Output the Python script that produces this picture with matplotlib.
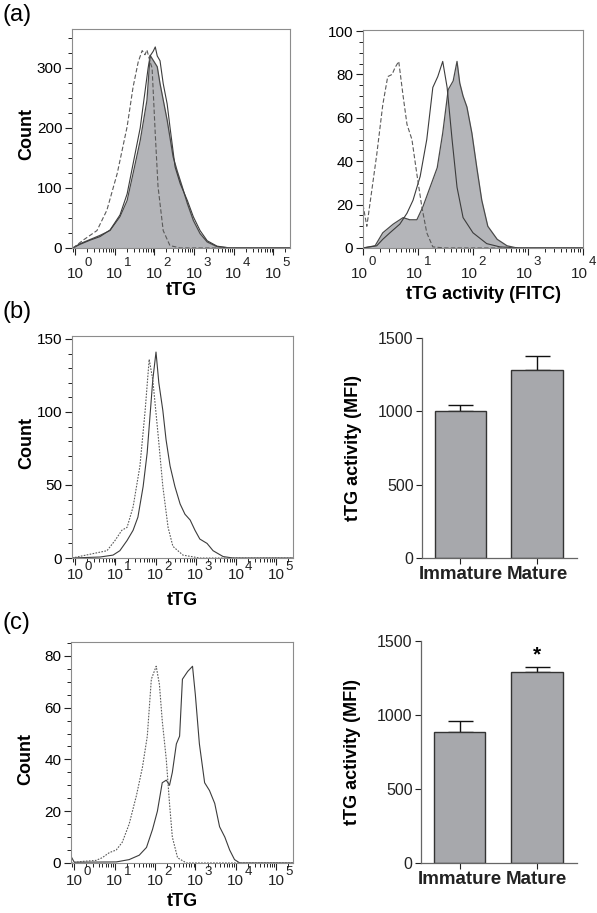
import numpy as np
import matplotlib
matplotlib.use('Agg')
import matplotlib.pyplot as plt
from matplotlib.ticker import MultipleLocator, LogLocator, NullFormatter, FixedLocator

plt.rcParams['font.family'] = ['Liberation Sans', 'DejaVu Sans']

OUTPUT_PATH = 'out.png'
FLOWJO_MAX = 262144  # FlowJo 18-bit axis top

# ---- (a) left: tTG staining, log10(fluorescence) vs count -------------------------
a_tg_iso_log = [-0.055, 0.2, 0.55, 0.8, 1.06, 1.31, 1.46, 1.59, 1.69, 1.76, 1.81, 1.89, 1.94, 2.02, 2.09, 2.22, 2.39, 2.65, 5.42]
a_tg_iso_cnt = [0, 13, 29, 63, 124, 202, 268, 310, 329, 322, 330, 310, 300, 190, 102, 29, 4, 0, 0]
a_tg_imm_log = [-0.055, 0.12, 0.375, 0.627, 0.88, 1.13, 1.31, 1.46, 1.64, 1.76, 1.84, 1.89, 1.97, 2.02, 2.07, 2.14, 2.22, 2.32, 2.39, 2.52, 2.65, 2.83, 2.98, 3.15, 3.33, 3.58, 3.91, 5.42]
a_tg_imm_cnt = [0, 6, 13, 19, 30, 55, 90, 140, 200, 260, 300, 320, 328, 335, 320, 312, 274, 240, 202, 135, 107, 79, 52, 29, 12, 3, 0, 0]
a_tg_mat_log = [-0.055, 0.12, 0.375, 0.627, 0.88, 1.13, 1.31, 1.46, 1.64, 1.81, 1.89, 2.07, 2.14, 2.32, 2.47, 2.57, 2.70, 2.83, 2.98, 3.15, 3.33, 3.58, 3.91, 5.42]
a_tg_mat_cnt = [0, 7, 14, 21, 29, 52, 79, 124, 179, 246, 321, 302, 274, 213, 152, 129, 102, 74, 46, 24, 10, 2, 0, 0]

# ---- (a) right: tTG activity (FITC) --------------------------------------------------
a_act_iso_log = [0.0, 0.07, 0.13, 0.25, 0.36, 0.45, 0.53, 0.58, 0.65, 0.73, 0.8, 0.89, 0.98, 1.07, 1.16, 1.27, 1.49, 4.0]
a_act_iso_cnt = [20, 10, 21, 43, 66, 79, 80, 83, 86, 70, 57, 50, 34, 19, 7, 0.5, 0, 0]
a_act_imm_log = [0.0, 0.25, 0.36, 0.49, 0.67, 0.8, 0.91, 1.04, 1.16, 1.27, 1.36, 1.45, 1.53, 1.62, 1.71, 1.82, 2.0, 2.25, 2.49, 2.85, 4.0]
a_act_imm_cnt = [0, 1, 4, 7, 11, 16, 22, 33, 50, 74, 79, 86, 74, 50, 28, 14, 7, 2, 0.5, 0, 0]
a_act_mat_log = [0.0, 0.22, 0.36, 0.55, 0.73, 0.85, 0.98, 1.09, 1.22, 1.35, 1.45, 1.55, 1.64, 1.71, 1.76, 1.82, 1.89, 1.98, 2.07, 2.16, 2.27, 2.44, 2.62, 2.8, 4.0]
a_act_mat_cnt = [0, 1, 7, 11, 14, 13, 13, 19, 28, 37, 53, 73, 77, 86, 76, 70, 65, 53, 37, 22, 10, 4, 1, 0, 0]

# ---- (b) left: tTG, immature vs mature ------------------------------------------------
b_dash_log = [-0.08, 0.44, 0.79, 0.99, 1.16, 1.29, 1.44, 1.61, 1.74, 1.84, 1.93, 2.06, 2.18, 2.31, 2.43, 2.68, 3.10, 5.42]
b_dash_cnt = [0, 3, 5, 12, 19, 21, 35, 63, 101, 136, 122, 85, 49, 21, 8, 2, 0, 0]
b_solid_log = [-0.08, 0.62, 0.94, 1.11, 1.29, 1.44, 1.56, 1.69, 1.79, 1.86, 1.93, 2.01, 2.08, 2.18, 2.26, 2.36, 2.48, 2.61, 2.73, 2.86, 2.98, 3.10, 3.28, 3.43, 3.68, 3.93, 5.42]
b_solid_cnt = [0, 0.7, 2, 5, 12, 19, 28, 49, 72, 97, 122, 141, 120, 101, 81, 63, 49, 37, 30, 26, 19, 13, 10, 5, 1, 0, 0]

# ---- (c) left -------------------------------------------------------------------------
c_dash_log = [-0.08, 0.19, 0.54, 0.69, 0.87, 1.04, 1.19, 1.36, 1.54, 1.69, 1.81, 1.91, 2.03, 2.11, 2.18, 2.28, 2.36, 2.43, 2.56, 2.78, 5.42]
c_dash_cnt = [0, 0.6, 1, 2, 4, 5, 8, 15, 26, 37, 49, 71, 76, 69, 55, 40, 23, 10, 2, 0, 0]
c_solid_log = [-0.08, 0.0, 1.04, 1.36, 1.61, 1.79, 1.94, 2.06, 2.18, 2.28, 2.36, 2.43, 2.53, 2.61, 2.68, 2.81, 2.93, 3.00, 3.10, 3.23, 3.35, 3.48, 3.60, 3.73, 3.85, 3.97, 4.10, 5.42]
c_solid_cnt = [2.6, 0.3, 0.4, 1.3, 3, 6, 13, 20, 31, 32, 30, 35, 46, 49, 71, 74, 76, 65, 46, 31, 28, 23, 14, 10, 5, 1.3, 0, 0]

# ---- bar charts: MFI of tTG activity --------------------------------------------------
groups = ['Immature', 'Mature']
b_mfi = [1000, 1284]
b_sem = [45, 96]
c_mfi = [882, 1287]
c_sem = [77, 38]

FILL = '#b4b5b9'
LINE = '#3c3c3c'
DASH = '#5a5a5a'
SPINE = '#8c8c8c'
BAR = '#a7a8ac'


def style_hist_axes(ax, xlim, ylim, ymajor, yminor, decades, base_off, sup_off, base_dx=0.0, sup_dx=6.5):
    """flow cytometry style box with log x axis and hand placed 10^n labels"""
    ax.set_xscale('log')
    ax.set_xlim(*xlim)
    ax.set_ylim(*ylim)
    ax.xaxis.set_major_locator(FixedLocator([10.0 ** n for n in decades]))
    ax.xaxis.set_minor_locator(LogLocator(base=10, subs=np.arange(2, 10), numticks=20))
    ax.xaxis.set_major_formatter(NullFormatter())
    ax.xaxis.set_minor_formatter(NullFormatter())
    ax.yaxis.set_major_locator(MultipleLocator(ymajor))
    ax.yaxis.set_minor_locator(MultipleLocator(yminor))
    for sp in ax.spines.values():
        sp.set_color(SPINE)
        sp.set_linewidth(0.8)
    ax.tick_params(which='major', direction='out', length=5, width=0.8, color='#222222', labelsize=11, pad=2)
    ax.tick_params(which='minor', direction='out', length=3, width=0.7, color='#222222')
    ax.tick_params(top=False, right=False, which='both')

    # FlowJo style decade labels: "10" with a near full size exponent beside it
    for n in decades:
        ax.annotate('10', xy=(10.0 ** n, 0), xycoords=('data', 'axes fraction'),
                    xytext=(base_dx, -base_off), textcoords='offset points',
                    ha='center', va='baseline', fontsize=11, color='#222222', annotation_clip=False)
        ax.annotate(str(n), xy=(10.0 ** n, 0), xycoords=('data', 'axes fraction'),
                    xytext=(sup_dx, -sup_off), textcoords='offset points',
                    ha='left', va='baseline', fontsize=9.5, color='#222222', annotation_clip=False)


def plot_line(ax, logx, cnt, dashed=False, dashes=(4, 2)):
    x = 10.0 ** np.asarray(logx)
    if dashed:
        ax.plot(x, cnt, color=DASH, lw=0.8, dashes=dashes)
    else:
        ax.plot(x, cnt, color=LINE, lw=0.8)


def plot_filled(ax, logx, cnt):
    x = 10.0 ** np.asarray(logx)
    ax.fill_between(x, cnt, 0, color=FILL, lw=0)
    ax.plot(x, cnt, color='#4a4a4a', lw=0.9)


def bar_panel(ax, values, errs, star=False):
    """grey MFI bars with upper error bars only"""
    xpos = np.arange(len(groups))
    ax.bar(xpos, values, width=0.67, color=BAR, edgecolor='#333333', linewidth=1.0, zorder=2)
    ax.errorbar(xpos, values, yerr=[np.zeros(len(errs)), errs], fmt='none',
                ecolor='#111111', elinewidth=1.0, capsize=9, capthick=1.0, zorder=1)
    ax.set_xlim(-0.5, 1.52)
    ax.set_ylim(0, 1500)
    ax.yaxis.set_major_locator(MultipleLocator(500))
    ax.set_xticks(xpos)
    ax.set_xticklabels(groups, fontweight='bold', fontsize=13.5)
    for side in ('top', 'right'):
        ax.spines[side].set_visible(False)
    for side in ('left', 'bottom'):
        ax.spines[side].set_color('#666666')
        ax.spines[side].set_linewidth(0.9)
    ax.tick_params(axis='y', direction='out', length=4, width=0.8, labelsize=11.5, pad=2, colors='#222222')
    ax.tick_params(axis='x', direction='out', length=4, width=0.8, pad=2, colors='#222222')
    ax.set_ylabel('tTG activity (MFI)', fontweight='bold', fontsize=13)
    ax.yaxis.set_label_coords(-0.385, 0.5)
    if star:
        ax.annotate('*', xy=(1, values[1] + errs[1]), xytext=(0, 2), textcoords='offset points',
                    ha='center', va='bottom', fontsize=15, fontweight='bold')


def main():
    fig = plt.figure(figsize=(5.97, 9.13), dpi=100)

    # (a) left ---------------------------------------------------------------------------
    ax = fig.add_axes([0.1206, 0.7284, 0.3652, 0.2399])
    plot_filled(ax, a_tg_mat_log, a_tg_mat_cnt)
    plot_line(ax, a_tg_imm_log, a_tg_imm_cnt)
    plot_line(ax, a_tg_iso_log, a_tg_iso_cnt, dashed=True, dashes=(4, 2))
    style_hist_axes(ax, (10 ** -0.08, FLOWJO_MAX), (0, 365), 100, 25, range(6), 21.5, 13)
    ax.set_ylabel('Count', fontweight='bold', fontsize=13)
    ax.yaxis.set_label_coords(-0.17, 0.52)
    ax.set_xlabel('tTG', fontweight='bold', fontsize=13)
    ax.xaxis.set_label_coords(0.5, -0.155)

    # (a) right --------------------------------------------------------------------------
    ax = fig.add_axes([0.6080, 0.7284, 0.3685, 0.2388])
    plot_filled(ax, a_act_mat_log, a_act_mat_cnt)
    plot_line(ax, a_act_imm_log, a_act_imm_cnt)
    plot_line(ax, a_act_iso_log, a_act_iso_cnt, dashed=True, dashes=(4, 2))
    style_hist_axes(ax, (1, 1e4), (0, 100.5), 20, 5, range(5), 21.5, 12, base_dx=-2.5, sup_dx=4.0)
    ax.set_xlabel('tTG activity (FITC)', fontweight='bold', fontsize=13)
    ax.xaxis.set_label_coords(0.55, -0.175)

    # (b) left ---------------------------------------------------------------------------
    ax = fig.add_axes([0.1206, 0.3888, 0.3702, 0.2432])
    plot_line(ax, b_solid_log, b_solid_cnt)
    plot_line(ax, b_dash_log, b_dash_cnt, dashed=True, dashes=(1.5, 1.2))
    style_hist_axes(ax, (10 ** -0.08, FLOWJO_MAX), (0, 152), 50, 10, range(6), 15, 8.5)
    ax.set_ylabel('Count', fontweight='bold', fontsize=13)
    ax.yaxis.set_label_coords(-0.165, 0.52)
    ax.set_xlabel('tTG', fontweight='bold', fontsize=13)
    ax.xaxis.set_label_coords(0.5, -0.155)

    # (b) right --------------------------------------------------------------------------
    ax = fig.add_axes([0.7069, 0.3888, 0.2596, 0.2410])
    bar_panel(ax, b_mfi, b_sem)

    # (c) left ---------------------------------------------------------------------------
    ax = fig.add_axes([0.1189, 0.0548, 0.3719, 0.2421])
    plot_line(ax, c_solid_log, c_solid_cnt)
    plot_line(ax, c_dash_log, c_dash_cnt, dashed=True, dashes=(1.5, 1.2))
    style_hist_axes(ax, (10 ** -0.08, FLOWJO_MAX), (0, 85.4), 20, 5, range(6), 16, 8.5)
    ax.set_ylabel('Count', fontweight='bold', fontsize=13)
    ax.yaxis.set_label_coords(-0.165, 0.47)
    ax.set_xlabel('tTG', fontweight='bold', fontsize=13)
    ax.xaxis.set_label_coords(0.5, -0.135)

    # (c) right --------------------------------------------------------------------------
    ax = fig.add_axes([0.7052, 0.0548, 0.2613, 0.2432])
    bar_panel(ax, c_mfi, c_sem, star=True)

    # panel letters
    for label, y in (('(a)', 0.984), ('(b)', 0.658), ('(c)', 0.318)):
        fig.text(0.004, y, label, fontsize=17, va='center', ha='left')

    fig.savefig(OUTPUT_PATH, dpi=100)
    plt.close(fig)


if __name__ == '__main__':
    main()
